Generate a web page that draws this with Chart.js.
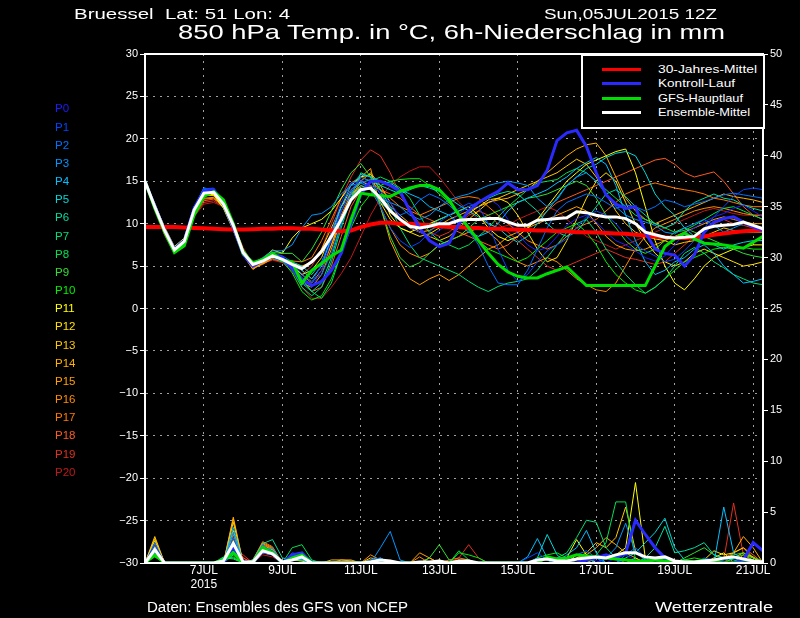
<!DOCTYPE html>
<html><head><meta charset="utf-8">
<script src="https://cdn.jsdelivr.net/npm/chart.js@4.4.0/dist/chart.umd.min.js"></script>
<style>
html,body{margin:0;padding:0;background:#000;}
#wrap{position:relative;width:800px;height:618px;overflow:hidden;background:#000;}
#c{position:absolute;left:0;top:0;}
.t{position:absolute;color:#fff;font-family:'Liberation Sans',Arial,sans-serif;white-space:pre;line-height:1;transform-origin:0 50%;}
#leg{position:absolute;left:581px;top:54px;width:180px;height:71px;border:2px solid #fff;background:#000;}
.ll{position:absolute;left:602px;width:39px;height:3px;}
</style></head><body>
<div id="wrap">
<canvas id="c" width="800" height="618"></canvas>
<div class="t" data-w="216" style="left:74px;top:5.6px;font-size:15px;">Bruessel  Lat: 51 Lon: 4</div>
<div class="t" data-w="173" style="left:544px;top:5.6px;font-size:15px;">Sun,05JUL2015 12Z</div>
<div class="t" data-w="547" style="left:178px;top:20.7px;font-size:21px;">850 hPa Temp. in °C, 6h-Niederschlag in mm</div>
<div class="t" data-w="261" style="left:147px;top:600px;font-size:14px;">Daten: Ensembles des GFS von NCEP</div>
<div class="t" data-w="118" style="left:655px;top:600px;font-size:14px;">Wetterzentrale</div>
<div id="leg"></div>
<div id="plabels"></div>
<div id="legitems"></div>
</div>
<script>
// ---------- categories (6-hourly, 05JUL2015 12Z ... 21JUL2015 06Z) ----------
const times = [];
for (let d = 5; d <= 21; d++) for (const h of ['00','06','12','18']) times.push(d + 'JUL ' + h + 'Z');
times.splice(0, 2); times.splice(64);
const xTickTimes  = ['7JUL 00Z','9JUL 00Z','11JUL 00Z','13JUL 00Z','15JUL 00Z','17JUL 00Z','19JUL 00Z','21JUL 00Z'];
const xTickLabels = [['7JUL','2015'],'9JUL','11JUL','13JUL','15JUL','17JUL','19JUL','21JUL'];
const tempTicks = [30,25,20,15,10,5,0,-5,-10,-15,-20,-25,-30];
const precipTicks = [50,45,40,35,30,25,20,15,10,5,0];

// ---------- 850 hPa temperature (°C) ----------
const climate = [9.6,9.6,9.6,9.6,9.55,9.5,9.45,9.4, 9.35,9.3,9.3,9.35,9.4,9.4,9.45,9.45,
 9.4,9.4,9.3,9.2,9.1,9.2,9.6,9.9, 10.1,10.1,10.0,10.0,9.9,9.8,9.7,9.6,
 9.6,9.5,9.5,9.4,9.4,9.3,9.3,9.25, 9.2,9.2,9.1,9.1,9.0,9.0,8.95,8.9,
 8.85,8.8,8.7,8.6,8.5,8.4,8.3,8.3, 8.4,8.5,8.7,8.85,9.0,9.1,9.2,9.25];
const control = [15,12.0,9.2,7.0,8.0,11.8,13.8,14.0, 12.4,9.6,6.4,5.0,5.6,6.4,6.0,4.8,
 3.5,2.7,3.2,4.5,6.5,10.0,13.5,15.0, 15.0,14.5,13.8,11.5,9.5,8.0,7.3,7.7,
 10.0,11.5,12.5,13.2,13.8,14.8,14.0,14.0, 14.5,16.3,19.8,20.7,21.0,19.1,16.0,13.4,
 12.3,11.8,12.0,9.0,7.0,6.5,6.3,5.0, 6.3,9.0,10.2,10.6,10.8,10.2,9.6,9.2];
const gfs = [15,11.8,9.0,6.6,7.4,11.0,13.2,13.8, 12.8,10.0,6.5,5.4,5.8,6.5,5.7,5.5,
 3.0,4.5,5.3,6.2,6.9,10.5,13.6,13.4, 13.3,13.2,13.8,14.2,14.5,14.5,14.0,12.8,
 11.0,9.5,8.0,6.5,5.2,4.3,3.8,3.6, 3.6,4.1,4.5,4.9,3.8,2.7,2.7,2.7,
 2.7,2.7,2.7,2.7,5.0,7.3,8.2,8.9, 8.2,7.7,7.6,7.5,7.3,7.1,7.8,8.5];
const ensMean = [15,12.0,9.2,6.9,7.9,11.6,13.6,13.7, 12.3,9.8,6.6,5.2,5.6,6.2,5.8,5.2,
 4.7,5.5,6.7,8.5,10.5,12.8,14.0,14.2, 13.0,11.5,10.5,9.7,9.5,9.7,10.0,10.0,
 10.4,10.5,10.5,10.6,10.6,10.2,9.8,9.8, 10.4,10.5,10.6,10.7,11.4,11.3,11.0,10.8,
 10.8,10.6,10.0,9.0,8.7,8.4,8.3,8.4, 8.5,9.4,9.7,9.8,9.9,10.2,9.8,9.4];

const P0 = [15,12.0,9.2,7.0,8.0,11.8,13.9,14.0, 12.3,9.6,6.5,5.2,5.8,6.4,6.0,5.2,
 3.5,2.5,4.5,8.0,11.5,14.0,15.2,14.5, 13.8,12.5,10.8,9.6,9.0,8.4,9.2,10.0,
 11.2,12.0,12.6,13.0,12.2,10.5,8.8,7.5, 6.8,7.2,8.5,9.8,10.6,11.0,10.2,9.0,
 8.0,7.5,6.8,6.0,5.6,6.2,7.5,8.8, 9.5,10.2,10.8,11.2,11.8,12.2,11.5,10.8];
const P1 = [15,12.2,9.0,6.8,7.8,11.6,14.1,14.2, 12.6,9.8,6.8,5.0,5.5,6.0,5.6,4.5,
 2.8,3.0,5.2,9.0,12.5,14.8,15.0,14.2, 12.0,9.5,8.0,7.2,7.8,9.0,10.2,11.0,
 11.8,12.4,12.0,10.0,7.0,4.5,3.2,4.0, 5.5,6.8,7.5,8.2,9.5,10.8,11.5,11.0,
 10.0,8.6,7.5,6.8,6.2,5.5,5.8,6.8, 8.0,9.5,10.8,12.0,13.2,14.0,14.2,14.0];
const P2 = [15,12.4,9.5,7.2,8.2,12.0,14.2,13.9, 12.0,9.3,6.2,5.0,5.6,6.5,6.2,5.5,
 4.0,3.2,4.0,6.5,10.0,13.5,15.5,15.0, 13.5,12.0,11.0,11.5,12.8,13.5,13.0,12.2,
 11.0,9.2,7.5,5.0,3.0,2.8,2.8,4.5, 7.0,9.5,11.5,12.5,13.0,13.5,13.2,12.5,
 11.8,12.2,12.0,11.5,12.0,12.8,12.5,12.0, 12.3,12.6,13.0,13.4,13.6,13.4,13.2,13.0];
const P3 = [15,12.1,9.4,7.1,8.1,11.9,14.0,14.1, 12.2,9.5,6.4,5.3,6.0,6.8,6.8,7.5,
 9.5,11.0,11.2,12.0,13.5,14.5,14.8,14.2, 13.0,12.5,12.0,11.0,10.5,11.0,12.0,12.8,
 13.2,13.5,14.0,14.5,14.8,15.0,14.8,14.5, 13.0,12.0,12.8,14.5,15.5,16.0,15.0,13.5,
 12.0,11.0,10.5,10.2,9.8,9.0,8.8,9.5, 10.0,10.5,9.8,9.0,9.5,10.0,9.8,9.5];
const P4 = [15,12.3,9.3,6.9,7.9,11.8,14.2,14.0, 12.4,9.7,6.6,5.4,5.9,6.3,5.9,5.4,
 4.5,3.5,5.0,8.5,12.0,14.5,15.8,15.5, 15.0,14.8,14.0,13.5,13.0,12.0,11.5,11.0,
 10.0,9.0,8.5,9.0,10.0,11.5,12.5,13.0, 13.5,14.0,14.8,15.5,16.5,17.2,17.8,17.0,
 14.5,11.0,8.0,5.5,4.0,4.5,5.5,6.0, 7.0,7.5,6.5,5.0,4.0,3.0,3.2,3.5];
const P5 = [15,12.0,9.1,6.9,8.0,11.7,13.9,13.8, 12.2,9.7,6.7,5.3,5.7,6.2,5.8,5.5,
 5.0,4.0,5.5,8.0,11.5,13.8,14.8,15.2, 14.5,14.0,13.5,14.0,14.5,14.2,13.8,13.0,
 12.2,11.5,10.8,10.0,9.5,8.5,7.8,8.5, 10.0,11.5,13.0,14.5,15.5,16.5,17.0,17.8,
 18.3,18.5,18.0,16.0,13.5,12.0,11.0,9.5, 8.5,7.8,7.5,7.0,7.5,7.8,8.0,8.0];
const P6 = [15,11.9,9.0,6.8,7.9,11.6,13.8,13.7, 12.1,9.6,6.6,5.1,5.5,6.1,5.7,4.8,
 3.0,2.0,3.0,6.0,10.0,13.0,14.5,14.0, 12.5,11.5,10.5,10.0,9.5,9.8,10.5,11.0,
 11.5,12.0,12.5,13.0,13.5,13.8,13.5,12.5, 11.5,10.0,9.0,8.5,9.0,10.5,12.0,13.5,
 14.0,13.2,12.0,11.0,10.0,9.5,10.0,11.5, 12.5,13.0,13.5,13.0,12.8,12.2,11.8,11.5];
const P7 = [15,12.1,9.2,7.0,8.1,11.7,13.8,13.9, 12.4,9.8,6.8,5.2,5.6,6.2,5.9,4.6,
 2.5,1.5,2.5,5.5,9.5,13.0,16.0,15.5, 14.0,12.0,9.5,7.5,6.0,5.5,5.0,4.5,
 4.0,3.2,2.5,2.0,2.6,3.0,3.2,3.5, 4.5,6.0,7.5,9.0,10.0,10.5,9.0,7.0,
 5.5,4.0,2.8,1.8,2.5,3.5,5.0,6.5, 7.2,6.5,5.5,4.8,4.0,3.5,3.0,2.8];
const P8 = [15,11.8,8.8,6.7,7.7,11.5,13.6,13.8, 12.5,10.0,6.9,5.3,5.6,6.0,5.5,4.8,
 3.5,2.0,1.2,3.0,6.5,10.0,13.5,15.0, 15.5,15.0,14.2,13.0,11.0,9.0,8.0,7.5,
 7.0,7.5,8.5,9.5,10.8,12.0,13.0,14.0, 14.8,15.0,15.2,16.0,16.5,16.0,15.0,14.0,
 13.0,12.0,11.0,10.5,10.0,9.5,9.0,9.2, 9.8,10.5,11.2,11.8,12.0,11.5,11.0,10.5];
const P9 = [15,12.2,9.4,7.1,8.2,11.9,13.7,13.6, 12.0,9.4,6.4,5.2,5.8,6.6,6.5,6.5,
 5.5,7.0,9.0,11.5,14.0,16.0,17.1,15.5, 12.0,8.5,6.0,4.9,5.4,6.5,7.5,8.0,
 8.5,9.5,10.5,11.0,11.5,12.0,12.5,13.0, 13.2,13.5,14.0,14.5,15.0,14.5,13.0,11.0,
 9.5,8.0,7.0,6.5,7.0,8.0,9.0,9.5, 9.0,8.5,8.0,7.5,7.0,6.5,6.2,6.0];
const P10 = [15,11.9,8.9,6.6,7.6,11.4,13.5,13.7, 12.6,10.1,7.0,5.4,5.7,6.1,5.6,4.2,
 2.0,1.0,1.5,3.5,6.5,9.5,12.0,13.5, 14.5,15.0,15.2,15.3,15.3,14.5,13.5,12.5,
 11.0,9.5,8.0,7.0,6.5,6.0,5.5,6.0, 7.0,8.0,9.0,9.5,10.0,9.0,7.5,5.5,
 4.0,3.0,2.2,1.8,2.5,3.5,4.5,5.5, 6.0,6.5,7.0,7.2,7.0,7.2,7.0,7.0];
const P11 = [15,12.3,9.6,7.3,8.3,12.0,13.6,13.4, 11.8,9.2,6.2,5.0,5.9,6.9,6.5,8.3,
 9.5,10.0,10.5,11.5,13.0,14.5,15.5,15.8, 14.0,11.0,9.5,9.0,9.5,10.0,10.5,11.0,
 11.5,12.0,11.0,9.5,8.5,8.0,8.5,9.5, 10.5,12.0,13.5,15.0,16.0,17.0,17.5,18.0,
 18.5,18.8,16.0,12.0,8.0,5.0,3.0,2.2, 3.5,5.0,6.0,6.5,7.0,7.2,7.5,7.5];
const P12 = [15,12.2,9.5,7.2,8.2,11.9,13.5,13.5, 12.0,9.4,6.3,4.9,5.6,6.3,6.0,5.0,
 4.0,4.5,6.0,9.0,12.0,14.0,15.0,14.5, 12.5,10.5,9.5,9.0,8.5,8.8,9.5,10.0,
 10.5,11.2,12.0,12.8,13.0,12.5,11.0,9.0, 7.0,5.5,6.0,8.0,10.5,13.0,15.0,16.0,
 15.0,12.5,10.0,8.0,6.5,5.5,5.0,5.5, 6.5,7.0,6.5,6.0,5.5,5.0,5.2,5.5];
const P13 = [15,12.1,9.3,7.0,8.0,11.7,13.4,13.3, 11.9,9.5,6.5,5.0,5.5,6.2,5.9,5.3,
 5.0,5.5,7.0,9.5,12.0,13.5,14.2,14.0, 13.0,12.0,11.0,10.0,9.0,8.5,8.0,8.5,
 9.5,10.5,11.5,12.5,13.0,13.5,14.0,14.5, 15.0,15.5,16.0,16.8,17.6,17.0,15.5,13.5,
 11.5,10.0,9.0,8.5,8.2,8.0,7.5,7.8, 8.0,8.5,9.0,9.5,9.2,9.0,9.0,9.0];
const P14 = [15,12.4,9.4,7.1,8.1,11.8,13.6,13.6, 12.1,9.5,6.3,4.6,5.4,6.2,5.8,5.1,
 4.5,3.5,5.0,7.5,10.5,13.0,15.0,16.0, 14.5,12.5,10.5,9.5,9.0,9.2,9.8,10.5,
 11.0,11.5,12.0,12.5,12.8,13.0,13.5,14.0, 15.0,16.0,17.0,18.0,18.8,19.3,19.5,18.0,
 15.5,13.0,11.5,10.5,10.0,10.5,11.0,11.5, 12.0,12.5,13.0,13.5,13.2,13.0,12.8,12.5];
const P15 = [15,12.2,9.2,6.9,7.9,11.6,13.3,13.4, 12.0,9.6,6.5,4.7,5.3,6.1,5.7,4.9,
 3.0,2.5,4.0,7.0,10.5,13.5,15.5,16.5, 12.0,8.0,5.5,3.5,2.8,3.5,4.0,3.3,
 4.0,5.0,6.0,7.0,7.5,8.5,9.0,9.5, 10.0,10.5,11.0,11.5,12.0,11.5,10.0,8.5,
 7.5,7.0,6.8,7.0,7.5,8.0,8.5,9.0, 9.5,10.0,10.5,10.8,10.5,10.2,10.0,10.0];
const P16 = [15,12.0,9.0,6.8,7.7,11.3,13.0,13.1, 11.9,9.7,6.7,4.8,5.2,5.9,5.6,5.0,
 4.0,3.0,4.5,7.5,11.0,13.5,14.5,14.0, 12.0,9.5,7.5,6.5,6.0,6.5,7.5,8.0,
 8.5,9.0,9.5,9.0,8.0,6.5,5.5,5.0, 5.5,6.0,5.5,4.5,3.5,2.8,2.2,2.0,
 3.0,5.0,7.0,8.5,9.5,10.0,10.5,11.0, 11.5,11.8,12.0,11.8,11.5,11.2,11.0,11.0];
const P17 = [15,11.9,8.9,6.7,7.6,11.2,12.9,13.0, 12.0,9.8,6.8,4.9,5.3,6.0,5.8,5.6,
 5.5,6.0,8.0,10.5,13.0,14.8,15.5,15.0, 14.0,13.0,12.0,11.5,11.0,11.5,12.0,12.5,
 13.0,13.2,13.0,12.0,11.0,10.0,9.0,8.0, 7.5,7.0,7.5,8.5,9.5,10.0,10.5,11.5,
 12.5,13.5,14.0,14.5,14.8,14.5,14.2,14.0, 13.8,13.5,13.0,12.8,12.5,12.2,12.0,12.0];
const P18 = [15,11.8,8.8,6.6,7.5,11.0,12.7,12.9, 12.1,9.9,6.9,5.0,5.3,5.8,5.5,4.8,
 3.5,2.0,2.5,5.0,8.5,12.0,14.0,14.5, 14.0,13.5,13.0,12.0,11.0,10.5,10.0,9.5,
 9.0,8.5,8.0,7.5,7.0,7.5,8.5,9.5, 10.5,11.5,12.5,13.0,13.5,14.0,14.5,15.0,
 15.5,16.0,16.5,17.0,17.5,17.7,17.0,16.0, 15.5,15.8,16.1,15.0,13.5,12.0,11.0,10.5];
const P19 = [15,11.7,8.7,6.7,7.4,10.9,12.5,12.7, 12.0,10.0,7.0,5.1,5.4,6.0,5.9,5.2,
 4.0,5.0,7.0,10.0,13.0,15.5,17.5,18.7, 18.0,16.0,13.5,11.5,10.0,9.0,8.5,9.0,
 10.0,11.0,11.5,11.0,10.0,9.0,8.0,7.0, 6.0,5.0,4.5,5.0,5.5,6.0,6.5,7.0,
 6.5,6.0,5.8,5.5,5.2,5.5,6.5,7.5, 8.5,9.5,10.0,10.5,10.0,9.8,9.5,9.5];
const P20 = [15,11.6,8.6,6.5,7.3,10.8,12.3,12.5, 12.0,10.1,7.2,5.2,5.3,5.7,5.4,4.4,
 2.5,1.2,1.2,2.5,4.1,6.0,8.5,11.0, 13.0,14.5,15.5,16.2,16.7,16.7,15.5,14.0,
 12.5,11.5,10.5,10.0,9.5,9.8,10.5,11.0, 11.5,12.0,11.5,10.5,9.5,8.5,8.0,7.5,
 7.0,7.5,8.0,8.5,9.0,9.5,10.0,10.5, 11.0,11.5,11.8,11.5,11.2,11.0,11.0,11.0];

// ---------- 6h precipitation (mm) ----------
const ctrlPr = [0,1.2,0,0,0,0,0,0,0,1.6,0,0,1.2,0.9,0,0.8, 1.0,0,0,0,0,0,0,0,0.2,0,0,0,0,0,0,0,
 0,0,0,0,0,0,0,0,0.3,0.5,0.3,0,0,0.3,0.5,0.8, 0.5,1.0,4.2,2.8,1.5,0.5,0,0,0,0,0,0,0,0.3,2.0,1.2];
const gfsPr = [0,0.8,0,0,0,0,0,0,0.3,1.0,0,0,1.5,1.0,0,0.5, 0.8,0,0,0,0,0,0,0,0,0,0,0,0,0,0,0,
 0,0,0,0,0,0,0,0,0,0.6,0.4,0.5,0.8,0.7,0.6,0.5, 0.4,0.3,0.2,0.2,0.3,0.2,0.1,0.2,0.1,0.3,0.1,0,0,0,0,0];
const meanPr = [0,1.3,0,0,0,0,0,0,0.2,1.9,0.1,0.1,1.2,0.9,0.1,0.3, 0.6,0,0,0,0,0,0,0.1,0.3,0.2,0,0,0.1,0.1,0.2,0,
 0.2,0.2,0,0,0,0,0,0,0.3,0.4,0.2,0.2,0.4,0.5,0.6,0.5, 0.8,1.0,1.0,0.6,0.5,0.6,0.2,0.1,0.1,0.2,0.3,0.5,0.6,0.4,0.2,0.1];
const pr0 = [0,1.2,0,0,0,0,0,0,0,1.5,0.3,0,1.0,0.8,0,0.8, 0.6,0,0,0,0,0,0,0,0.2,0,0,0,0,0,0,0,
 0,0,0,0,0,0,0,0,0.3,0.5,0.3,0,0,0.5,0.2,0, 0.5,0.8,0.3,0,0,0.5,0,0,0,0,0.3,0,0,0.2,0,0];
const pr1 = [0,1.8,0,0,0,0,0,0,0,2.0,0,0,1.5,1.2,0,1.0, 0.8,0.2,0,0,0,0,0,0,0.3,0,0,0,0,0,0,0,
 0,0,0,0,0,0,0,0.5,1.0,0.3,0,0,0,0,0,0.5, 0.3,0,0,0,0,0,0,0,0,0.5,0.3,0,0,0,0,0.2];
const pr2 = [0,2.0,0,0,0,0,0,0,0,2.5,0,0,1.8,1.0,0,0.5, 0.4,0,0,0,0,0,0,0.3,0.5,0,0,0,0,0,0.2,0,
 0,0,0,0,0,0,0,0,0,0,0,0.5,0.8,1.2,0.5,0, 0,0.8,1.5,0.5,0,0,0,0,0,0,0,0.3,0.5,0,0,0];
const pr3 = [0,1.5,0,0,0,0,0,0,0,3.0,0,0,1.2,1.5,0,0.8, 0.5,0,0,0,0,0,0,0,1.5,3.1,0.3,0,0,0,0,0,
 0,0,0,0,0,0,0,0,0,0,0,0,0,0,0,0.5, 1.5,3.9,1.0,0.3,0,0,0,0,0,0,0,0,0,0,0,0];
const pr4 = [0,1.0,0,0,0,0,0,0,0,3.5,0,0,1.0,0.8,0,0.4, 0.3,0,0,0,0,0,0,0,0.5,0,0,0,0,0,0,0,
 0,0,0,0,0,0,0,0.6,2.4,0.5,0,0.8,1.5,3.2,1.0,0, 0,0,0,0,0,0,0,0,0,0.3,0,5.5,1.0,0.3,0,0];
const pr5 = [0,0.8,0,0,0,0,0,0,0,1.2,0,0,1.5,1.0,0,0.3, 0.4,0,0,0,0,0,0,0,0.2,0,0,0,0,0,0,0,
 0,0,0,0,0,0,0,0,0.5,2.8,0.8,0,0,0.5,0,0, 0,0.5,1.0,2.0,3.0,4.4,1.5,0.3,0,0,0,0,0,0,0,0];
const pr6 = [0,1.3,0,0,0,0,0,0,0,0.8,0,0.3,1.9,2.3,0.5,0.3, 0.3,0,0,0,0,0,0,0,0,0,0,0,0,0,0,0,
 0,0,0,0,0,0,0,0,0,0,0,0,0,0.3,0.5,0, 0,0,0,0.5,1.5,3.6,1.0,1.2,1.5,2.0,0.8,0.5,0.3,0,0,0];
const pr7 = [0,0.9,0,0,0,0,0,0,0.5,0.5,0,0,1.3,1.0,0,0.5, 0.6,0,0,0,0,0,0,0,0,0,0,0,0,0,0,0,
 0,0,0,0,0,0,0,0,0,0,0.5,1.0,2.5,4.2,4.0,1.5, 0.5,0.3,0,0,0,0,0,0,0,0,0,0,0,0,0,0];
const pr8 = [0,1.1,0,0,0,0,0,0,0.6,1.0,0,0,1.6,1.2,0,1.5, 1.8,0.3,0,0,0,0,0,0,0,0,0,0,0,0,0,0,
 1.2,0.3,0,0,0,0,0,0,0,0,0,0,0,0,0.8,2.0, 6.0,6.0,0.3,0,0,0,0,0,0,0,0,0,0,0,0,0];
const pr9 = [0,0.6,0,0,0,0,0,0,0.5,0.4,0,0,1.2,0.8,0,0.4, 0.3,0,0,0,0,0,0,0,0,0,0,0,0,0.5,1.8,0.3,
 0,0,0,0,0,0,0,0,0,0,0,0,0,0,0,0, 0,0,0,0,0,0,0,0.5,1.0,1.5,0.8,0.5,0.8,1.0,0.5,0.2];
const pr10 = [0,0.7,0,0,0,0,0,0,0.4,0.6,0,0,1.4,1.1,0,0.6, 1.0,0.2,0,0,0,0,0,0,0,0,0,0,0,0,0,0,
 1.0,0.8,0.5,0,0,0,0,0,0.5,0.8,1.0,0.5,0,0,0,0, 0,0,0,0,0,0,0,0.3,0.5,0.3,0,0,0.5,0.8,0.3,0];
const pr11 = [0,1.6,0,0,0,0,0,0,0,2.2,0,0,1.0,0.8,0,0.3, 0.2,0,0,0,0,0,0,0.3,0,0,0,0,0,0,0,0,
 0,0,0,0,0,0,0,0,0,0,0,0.5,2.3,0.8,0,0.5, 0.8,1.5,7.9,0.5,0,0,0,0,0,0,0.5,1.0,0,0,0,0];
const pr12 = [0,2.2,0,0,0,0,0,0,0,3.2,0,0,1.3,1.0,0,0, 0,0,0,0,0,0,0,0,0.2,0,0,0,0,0,0,0,
 0,0,0,0,0,0,0,0,0,0,0,0,0.8,0.5,0,0, 0,0,0.5,0,0,0,0,0,0,0.3,1.2,0.8,1.0,1.5,0.5,0];
const pr13 = [0,2.6,0,0,0,0,0,0,0,4.0,0,0,1.5,1.2,0,0, 0,0,0,0,0,0,0,0.5,0.3,0,0,0,0,0,0.3,0,
 0,0,0,0,0,0,0,0,0,0,0,0,0.5,1.0,2.0,1.5, 2.5,5.5,1.2,0.3,0,0,0,0,0,0,0,0,0.5,1.0,0.6,0];
const pr14 = [0,2.4,0,0,0,0,0,0,0,4.5,0,0,1.7,1.3,0,0, 0,0,0,0.3,0.3,0.2,0,0,0,0,0,0,0,0.5,0,0,
 0,0,0,0,0,0,0,0,0,0,0,0,0.3,0.8,1.5,2.5, 1.8,1.0,0.5,0,0,0,0,0,0,0,0,0,1.0,2.6,1.5,0];
const pr15 = [0,1.9,0,0,0,0,0,0,0,4.3,0,0,1.9,1.4,0,0.3, 0.2,0,0,0,0.3,0.3,0,0,0,0,0,0,1.0,0.5,0,0,
 0,0,0,0,0,0,0,0,0,0,0,0,0,0,0.5,0.8, 0.5,0,0,0,0,0,0,0,0,0,0,0,0,0,0,0];
const pr16 = [0,1.4,0,0,0,0,0,0,0,2.8,0,0.3,2.0,1.5,0,0, 0,0,0,0,0,0,0,0.8,0.3,0,0,0,0.6,0,0,0,
 0.3,0,0,0,0,0,0,0,0,0,0,0,0,0,0,0, 0,0,0,0,0,0,0,0,0,0,0,0,0,0.8,0.5,0];
const pr17 = [0,1.0,0,0,0,0,0,0,0,1.8,0,0.3,2.1,1.6,0,0, 0,0,0,0,0,0,0,0,0,0,0,0,0,0,0,0.3,
 0.5,0.3,0,0,0,0,0,0,0,0,0,0,0,0,0,0, 0,0,0,0,0.3,0.5,0,0,0,0,0,0,0,0,0,0];
const pr18 = [0,0.8,0,0,0,0,0,0,0,2.0,0.5,0,1.8,1.3,0,0, 0,0,0,0,0,0,0,0,0,0,0,0,0,0,0,0,
 0,0,0,0,0,0,0,0,0,0,0,0,0,0,0,0, 0,0,0,0,0,0.5,0,0,0,0,0,0.5,1.0,1.5,0.8,0];
const pr19 = [0,1.7,0,0,0,0,0,0,0,1.5,0.8,0,1.0,0.8,0,0, 0,0,0,0,0,0,0,0,0,0,0,0,0,0,0,0,
 0.5,1.8,0.5,0,0,0,0,0,0,0,0,0,0,0,0,0, 0,0,0,0,0,0,0,0,0,0,0,0.3,5.9,0.8,0.2,0];
const pr20 = [0,1.2,0,0,0,0,0,0,0,2.4,0.5,0,0.8,0.6,0,0, 0,0,0,0,0,0,0,0,0,0,0,0,0,0,0,0,
 0,0,0,0,0,0,0,0,0,0,0,0,0,0,0,0, 0,0,0,0,0,0,0,0,0,0,0,0,0,0.3,0,0];

const memberNames = ['P0','P1','P2','P3','P4','P5','P6','P7','P8','P9','P10','P11','P12','P13','P14','P15','P16','P17','P18','P19','P20'];
const memberColors = ['#1c1cff','#0046ff','#0070ff','#0096ff','#00c0ff','#00d8d8','#00dca0','#00dc78','#00e050','#30e030','#00f000',
 '#ffff00','#ffe000','#ffc800','#ffb000','#ffa000','#ff8c00','#ff7800','#ff5a20','#e03020','#c01818'];
const memberTemps = [P0,P1,P2,P3,P4,P5,P6,P7,P8,P9,P10,P11,P12,P13,P14,P15,P16,P17,P18,P19,P20];
const memberPrecip = [pr0,pr1,pr2,pr3,pr4,pr5,pr6,pr7,pr8,pr9,pr10,pr11,pr12,pr13,pr14,pr15,pr16,pr17,pr18,pr19,pr20];

const legendItems = [['30-Jahres-Mittel','#ff0000',99],['Kontroll-Lauf','#2a2aff',77],['GFS-Hauptlauf','#00dd00',85],['Ensemble-Mittel','#ffffff',92]];

// ---------- datasets ----------
const datasets = [];
memberTemps.forEach((d,k)=>datasets.push({label:memberNames[k],data:d,borderColor:memberColors[k],borderWidth:1,yAxisID:'y',order:100+k}));
memberPrecip.forEach((d,k)=>datasets.push({label:memberNames[k]+' RR',data:d,borderColor:memberColors[k],borderWidth:1,yAxisID:'y2',order:200+k}));
datasets.push({label:'30-Jahres-Mittel',data:climate,borderColor:'#ff0000',borderWidth:4,yAxisID:'y',order:4});
datasets.push({label:'Kontroll-Lauf',data:control,borderColor:'#2a2aff',borderWidth:3,yAxisID:'y',order:3});
datasets.push({label:'GFS-Hauptlauf',data:gfs,borderColor:'#00dd00',borderWidth:3,yAxisID:'y',order:2});
datasets.push({label:'Ensemble-Mittel',data:ensMean,borderColor:'#ffffff',borderWidth:3,yAxisID:'y',order:1});
datasets.push({label:'Kontroll-Lauf RR',data:ctrlPr,borderColor:'#2a2aff',borderWidth:3,yAxisID:'y2',order:13});
datasets.push({label:'GFS-Hauptlauf RR',data:gfsPr,borderColor:'#00dd00',borderWidth:3,yAxisID:'y2',order:12});
datasets.push({label:'Ensemble-Mittel RR',data:meanPr,borderColor:'#ffffff',borderWidth:3,yAxisID:'y2',order:11});

const tickMap = {};
xTickTimes.forEach((t,k)=>tickMap[t]=xTickLabels[k]);
const gridColor = '#a0a0a0';
const FONT = "'Liberation Sans', Arial, sans-serif";

const framePlugin = {id:'frame', afterDraw(chart){
  const {ctx, chartArea:a} = chart;
  ctx.save(); ctx.strokeStyle='#fff'; ctx.lineWidth=2;
  ctx.strokeRect(a.left, a.top, a.right-a.left, a.bottom-a.top);
  ctx.restore();
}};

new Chart(document.getElementById('c'), {
  type:'line',
  data:{labels:times, datasets},
  plugins:[framePlugin],
  options:{
    responsive:false, animation:false, events:[],
    layout:{padding:{top:54,left:0,right:0,bottom:0}},
    elements:{point:{radius:0},line:{tension:0,fill:false}},
    plugins:{legend:{display:false},tooltip:{enabled:false},title:{display:false}},
    scales:{
      x:{type:'category',
         afterFit:s=>{s.height=55;},
         grid:{drawTicks:false,color:c=>tickMap[times[c.index]]?gridColor:'rgba(0,0,0,0)',lineWidth:1},
         border:{display:true,color:'#fff',width:2,dash:[2,5]},
         ticks:{autoSkip:false,maxRotation:0,minRotation:0,padding:0,color:'#fff',font:{family:FONT,size:12},
           callback:(v,i)=>tickMap[times[i]]||''}},
      y:{position:'left',min:-30,max:30,
         afterFit:s=>{s.width=145;},
         afterBuildTicks:s=>{s.ticks=tempTicks.map(v=>({value:v}));},
         grid:{drawTicks:true,tickLength:5,tickColor:'#fff',tickWidth:1,
           color:c=>(c.tick&&Math.abs(c.tick.value)===30)?'rgba(0,0,0,0)':gridColor},
         border:{display:true,color:'#fff',width:2,dash:[2,5]},
         ticks:{padding:2,color:'#fff',font:{family:FONT,size:11},callback:v=>String(v).replace('-','\u2212')}},
      y2:{position:'right',min:0,max:50,
         afterFit:s=>{s.width=37;},
         afterBuildTicks:s=>{s.ticks=precipTicks.map(v=>({value:v}));},
         grid:{drawOnChartArea:false,drawTicks:true,tickLength:5,tickColor:'#fff',tickWidth:1},
         border:{display:true,color:'#fff',width:2},
         ticks:{padding:2,color:'#fff',font:{family:FONT,size:11}}}
    }
  }
});

// member labels on the left
const pl = document.getElementById('plabels');
memberNames.forEach((n,k)=>{
  const d=document.createElement('div'); d.className='t'; d.textContent=n;
  d.style.left='55px'; d.style.fontSize='11.5px'; d.style.color=memberColors[k];
  d.style.top=(109+18.17*k-5.6)+'px'; pl.appendChild(d);
});
// legend entries
const li = document.getElementById('legitems');
const legY=[69.3,83.3,98.3,112.3];
legendItems.forEach((it,k)=>{
  const l=document.createElement('div'); l.className='ll'; l.style.background=it[1]; l.style.top=(legY[k]-1.5)+'px'; li.appendChild(l);
  const t=document.createElement('div'); t.className='t'; t.textContent=it[0]; t.dataset.w=it[2];
  t.style.left='658px'; t.style.fontSize='11.5px'; t.style.top=(legY[k]-5.6)+'px'; li.appendChild(t);
});
// fit the header/footer/legend texts to the reference widths
document.querySelectorAll('[data-w]').forEach(el=>{
  const w=el.getBoundingClientRect().width; const t=+el.dataset.w;
  if(w>0) el.style.transform='scaleX('+(t/w)+')';
});
</script>
</body></html>
